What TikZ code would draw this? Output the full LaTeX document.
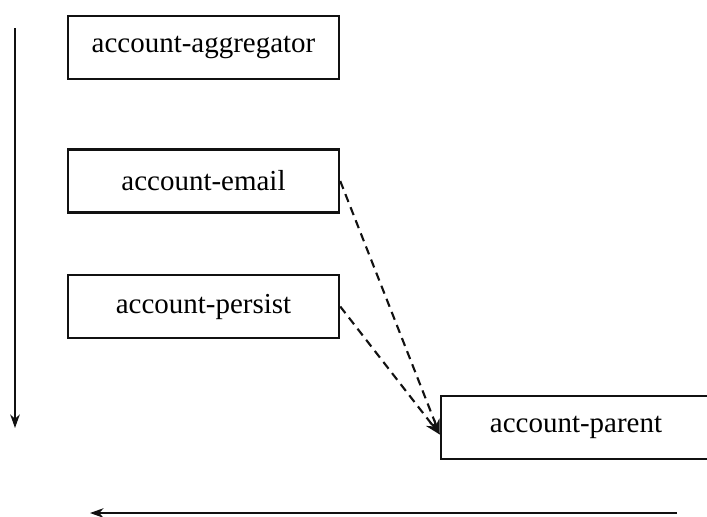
\documentclass[tikz,border=0pt]{standalone}
\usepackage{fontspec}
\setmainfont{Liberation Serif}
\usepackage{xcolor}
\usetikzlibrary{arrows.meta,positioning,calc}
\definecolor{ink}{HTML}{111111}
\tikzset{
  modbox/.style={draw=ink,line width=1.7pt,minimum width=6.775cm,
                 minimum height=1.575cm,inner sep=0pt,
                 font=\fontsize{20.6}{24}\selectfont},
  flowarr/.style={-{Stealth[length=3.4mm,width=2.4mm]},line width=1.2pt,
                  draw=ink},
  dasharr/.style={-{Stealth[length=3.8mm,width=2.8mm]},line width=1.5pt,
                  draw=ink,dash pattern=on 6pt off 4pt}
}
\begin{document}
\begin{tikzpicture}[x=0.025cm,y=-0.025cm]
    \path[use as bounding box] (0,0) rectangle (707,516);
    % modules
    \node[modbox] (agg) at (203.5,47.5) {account-aggregator};
    \node[modbox] (email) at (203.5,181) {account-email};
    \node[modbox] (persist) at (203.5,306.5) {account-persist};
    \node[modbox,minimum width=6.75cm] (parent) at (576,427.5)
      {account-parent};
    % dependencies
    \draw[dasharr] (email.east) -- ($(parent.west)+(0,7)$);
    \draw[dasharr] (persist.east) -- ($(parent.west)+(0,7)$);
    % build order
    \coordinate (vtop) at (15,28);
    \coordinate (vbot) at (15,428);
    \draw[flowarr] (vtop) -- (vbot);
    \coordinate (hright) at (677,513);
    \coordinate (hleft) at (90,513);
    \draw[flowarr] (hright) -- (hleft);
\end{tikzpicture}
\end{document}
